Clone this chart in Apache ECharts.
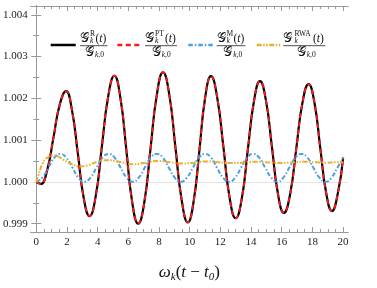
<!DOCTYPE html>
<html><head><meta charset="utf-8">
<script src="https://cdn.jsdelivr.net/npm/echarts@6/dist/echarts.min.js"></script>
<style>html,body{margin:0;padding:0;background:#fff}#c{width:377px;height:288px}</style>
</head><body><div id="c"></div>
<script>
// ---- data ----
const tR = [0,0.15,0.3,0.71,1.12,1.53,1.94,2.32,2.71,3.09,3.47,3.88,4.28,4.69,5.09,5.48,5.87,6.25,6.64,7.05,7.45,7.86,8.26,8.67,9.07,9.48,9.88,10.26,10.64,11.01,11.39,11.79,12.2,12.6,13.0,13.4,13.79,14.19,14.58,14.97,15.36,15.75,16.14,16.54,16.95,17.35,17.75,18.13,18.51,18.89,19.27,19.67,20.0];
const vR = [1.00000,0.99997,0.99995,1.00028,1.00106,1.00185,1.00217,1.00173,1.00068,0.99962,0.99918,0.99967,1.00086,1.00205,1.00254,1.00202,1.00077,0.99952,0.99900,0.99953,1.00081,1.00209,1.00262,1.00209,1.00083,0.99956,0.99903,0.99954,1.00078,1.00202,1.00253,1.00203,1.00083,0.99963,0.99913,0.99961,1.00077,1.00193,1.00241,1.00195,1.00084,0.99972,0.99926,0.99969,1.00080,1.00189,1.00234,1.00190,1.00082,0.99975,0.99930,0.99975,1.00058];
const tPT = [0,0.15,0.3,0.71,1.12,1.53,1.94,2.32,2.71,3.09,3.47,3.88,4.28,4.69,5.09,5.48,5.87,6.25,6.64,7.05,7.45,7.86,8.26,8.67,9.07,9.48,9.88,10.26,10.64,11.01,11.39,11.79,12.2,12.6,13.0,13.4,13.79,14.19,14.58,14.97,15.36,15.75,16.14,16.54,16.95,17.35,17.75,18.13,18.51,18.89,19.27,19.67,20.0];
const vPT = [1.00000,0.99997,0.99995,1.00028,1.00106,1.00185,1.00217,1.00173,1.00068,0.99962,0.99918,0.99967,1.00086,1.00205,1.00254,1.00202,1.00077,0.99952,0.99900,0.99953,1.00081,1.00209,1.00262,1.00209,1.00083,0.99956,0.99903,0.99954,1.00078,1.00202,1.00253,1.00203,1.00083,0.99963,0.99913,0.99961,1.00077,1.00193,1.00241,1.00195,1.00084,0.99972,0.99926,0.99969,1.00080,1.00189,1.00234,1.00190,1.00082,0.99975,0.99930,0.99975,1.00058];
const tM = [0,0.39,0.79,1.18,1.57,1.96,2.36,2.75,3.14,3.53,3.93,4.32,4.71,5.11,5.5,5.89,6.28,6.68,7.07,7.46,7.85,8.25,8.64,9.03,9.42,9.82,10.21,10.6,11.0,11.39,11.78,12.17,12.57,12.96,13.35,13.74,14.14,14.53,14.92,15.32,15.71,16.1,16.49,16.89,17.28,17.67,18.06,18.46,18.85,19.24,19.63,20.0];
const vM = [1.00000,1.00010,1.00034,1.00058,1.00067,1.00058,1.00034,1.00010,
            1.00000,1.00010,1.00034,1.00058,1.00067,1.00058,1.00034,1.00010,
            1.00000,1.00010,1.00034,1.00058,1.00067,1.00058,1.00034,1.00010,
            1.00000,1.00010,1.00034,1.00058,1.00067,1.00058,1.00034,1.00010,
            1.00000,1.00010,1.00034,1.00058,1.00067,1.00058,1.00034,1.00010,
            1.00000,1.00010,1.00034,1.00058,1.00067,1.00058,1.00034,1.00010,
            1.00000,1.00010,1.00034,1.00057];
const tRWA = [0,0.13,0.26,0.42,0.58,0.8,1.05,1.4,1.77,2.3,2.85,3.4,3.9,4.6,5.4,6.3,7.1,7.9,8.7,9.5,10.3,11.1,11.9,12.6,13.4,14.2,15.0,15.8,16.6,17.4,18.2,18.9,19.5,20.0];
const vRWA = [1.00000,1.00015,1.00030,1.00044,1.00054,1.00060,1.00063,1.00061,1.00053,1.00043,1.00037,1.00040,1.00047,1.00052,1.00048,1.00042,1.00046,1.00050,1.00047,1.00044,1.00046,1.00049,1.00047,1.00045,1.00046,1.00048,1.00047,1.00045,1.00046,1.00048,1.00047,1.00046,1.00047,1.00047];
const xTicks = [0,2,4,6,8,10,12,14,16,18,20];
const yTicks = [0.999,1.000,1.001,1.002,1.003,1.004];
const legendSup = ['R','PT','M','RWA'];

// ---- style ----
const colors = ['#000000','#ff1a1a','#4aa0e6','#e8b030'];
const dashes = ['solid',[5,3.5],[4.5,2,1.5,2],[5,1.5,1.5,1.5,1.5,1.5]];
const widths = [2.2,1.8,2.0,2.0];
const SERIF = '"Liberation Serif", "DejaVu Serif", serif';
const GFONT = '"DejaVu Sans", "DejaVu Serif", "Noto Sans", serif';
const frame = '#9a9a9a';

const zip = (t, v) => t.map((x, i) => [x, v[i]]);
const minorX = []; for (let i = 0; i <= 40; i++) if (i % 4) minorX.push(i * 0.5);
const minorY = [0.9995,1.0005,1.0015,1.0025,1.0035];

const XMIN = -0.36, XMAX = 20.32, YMIN = 0.9988, YMAX = 1.00421;
function xAx(pos, ticks, len, labels) {
  return {
    type: 'value', position: pos, min: XMIN, max: XMAX,
    axisLine: {show: true, lineStyle: {color: frame, width: 1}},
    splitLine: {show: false},
    axisTick: {show: true, inside: true, length: len, customValues: ticks, lineStyle: {color: frame}},
    axisLabel: labels ? {show: true, customValues: ticks, margin: 5, color: '#222', fontFamily: SERIF, fontSize: 11} : {show: false}
  };
}
function yAx(pos, ticks, len, labels) {
  return {
    type: 'value', position: pos, min: YMIN, max: YMAX,
    axisLine: {show: true, lineStyle: {color: frame, width: 1}},
    splitLine: {show: false},
    axisTick: {show: true, inside: true, length: len, customValues: ticks, lineStyle: {color: frame}},
    axisLabel: labels ? {show: true, customValues: ticks, margin: 3, color: '#222', fontFamily: SERIF, fontSize: 11,
      formatter: v => v.toFixed(3)} : {show: false}
  };
}

const xAxes = [xAx('bottom', xTicks, 5, true), xAx('bottom', minorX, 3, false), xAx('top', xTicks, 5, false), xAx('top', minorX, 3, false)];
xAxes[0].name = '{i|ω}{s|k}{u|(}{i|t}{u| − }{i|t}{s|0}{u|)}';
xAxes[0].nameLocation = 'middle';
xAxes[0].nameGap = 31;
xAxes[0].nameTextStyle = {rich: {
  i: {fontFamily: SERIF, fontStyle: 'italic', fontSize: 17, color: '#111'},
  u: {fontFamily: SERIF, fontSize: 17, color: '#111'},
  s: {fontFamily: SERIF, fontStyle: 'italic', fontSize: 11, color: '#111', padding: [9, 0, 0, 0]}
}};
const yAxes = [yAx('left', yTicks, 5, true), yAx('left', minorY, 3, false), yAx('right', yTicks, 5, false), yAx('right', minorY, 3, false)];

const seriesData = [zip(tR, vR), zip(tPT, vPT), zip(tM, vM), zip(tRWA, vRWA)];
const series = seriesData.map((d, i) => ({
  type: 'line', data: d, smooth: 0.5, showSymbol: false, symbol: 'none',
  xAxisIndex: 0, yAxisIndex: 0, z: 2 + i,
  lineStyle: {color: colors[i], width: widths[i], type: dashes[i]},
  animation: false
}));
series[0].markLine = {silent: true, symbol: 'none', label: {show: false},
  lineStyle: {color: '#e4e4e4', width: 1, type: 'solid'}, data: [{yAxis: 1}], z: 1, animation: false};

// ---- legend drawn as fraction labels ----
const LEG = [
  {l1: 50.7, l2: 75.7, gx: 80, supx: 90, parx: 95.5, b1: 80, b2: 107.5, dgx: 85},
  {l1: 117.3, l2: 141.7, gx: 145, supx: 155, parx: 165, b1: 145, b2: 177, dgx: 151.7},
  {l1: 188.3, l2: 213.3, gx: 216.7, supx: 226.5, parx: 233.5, b1: 216.7, b2: 245.3, dgx: 223.3},
  {l1: 256.7, l2: 280.3, gx: 283.3, supx: 294.5, parx: 313, b1: 283.3, b2: 325.3, dgx: 296.7}
];
const graphic = [];
const txt = (x, y, text, font, rich) => ({type: 'text', x, y, silent: true, z: 100,
  style: {text, font, fill: '#111', textAlign: 'left', textVerticalAlign: 'middle', verticalAlign: 'middle', rich}});
LEG.forEach((p, i) => {
  const ld = dashes[i] === 'solid' ? null : dashes[i];
  graphic.push({type: 'line', silent: true, z: 100, shape: {x1: p.l1, y1: 45, x2: p.l2, y2: 45},
    style: {stroke: colors[i], lineWidth: 2.5, lineDash: ld}});
  graphic.push(txt(p.gx, 38.5, '𝒢', '13px ' + GFONT));
  graphic.push(txt(p.supx, 34, legendSup[i], '7.5px ' + SERIF));
  graphic.push(txt(p.supx, 41.5, 'k', 'italic 7.5px ' + SERIF));
  graphic.push(txt(p.parx, 38.5, '{u|(}{i|t}{u|)}', '11px ' + SERIF, {
    u: {fontFamily: SERIF, fontSize: 11.5, fill: '#111'},
    i: {fontFamily: SERIF, fontStyle: 'italic', fontSize: 11.5, fill: '#111'}}));
  graphic.push({type: 'line', silent: true, z: 100, shape: {x1: p.b1, y1: 45.7, x2: p.b2, y2: 45.7},
    style: {stroke: '#222', lineWidth: 0.8}});
  graphic.push(txt(p.dgx, 52.5, '𝒢', '13px ' + GFONT));
  graphic.push(txt(p.dgx + 10, 55.5, '{i|k}{u|,0}', '7.5px ' + SERIF, {
    i: {fontFamily: SERIF, fontStyle: 'italic', fontSize: 7.5, fill: '#111'},
    u: {fontFamily: SERIF, fontSize: 7.5, fill: '#111'}}));
});

const chart = echarts.init(document.getElementById('c'), null, {renderer: 'canvas'});
chart.setOption({
  animation: false,
  backgroundColor: '#fff',
  grid: {left: 28, right: 29, top: 6, bottom: 41, containLabel: false},
  xAxis: xAxes,
  yAxis: yAxes,
  series,
  graphic
});
</script></body></html>
